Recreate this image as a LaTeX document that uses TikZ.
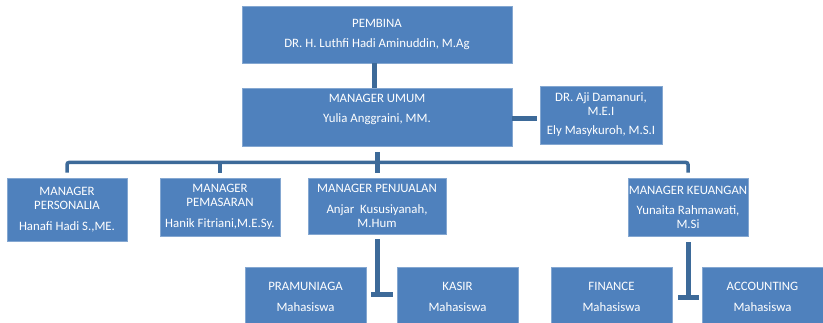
\documentclass[tikz,border=0pt]{standalone}
\usepackage{fontspec}
\setmainfont{Carlito}
\usetikzlibrary{positioning}
\definecolor{biruKotak}{HTML}{4F81BD}
\definecolor{biruGaris}{HTML}{3D6A99}

\begin{document}
\begin{tikzpicture}[x=1pt,y=-1pt,
        jabatan/.style={fill=biruKotak,draw=biruKotak!70!white,line width=0.5pt,text=white,align=center,inner sep=1pt,
            font=\fontsize{12.8}{14}\selectfont},
        garis/.style={draw=biruGaris,line width=5pt}]
        \useasboundingbox (0,0) rectangle (823,323);
        \node[jabatan,minimum width=270pt,minimum height=57pt] (pembina) at (377,34.5) {PEMBINA\\[6pt]DR. H. Luthfi Hadi Aminuddin, M.Ag};
        \node[jabatan,minimum width=270pt,minimum height=58pt] (umum) at (377,117) {MANAGER UMUM\\[6pt]Yulia Anggraini, MM.\\[3pt]\mbox{}};
        \node[jabatan,minimum width=122pt,minimum height=58pt] (sisi) at (601,115) {DR. Aji Damanuri,\\M.E.I\\[5pt]Ely Masykuroh, M.S.I};

        \node[jabatan,minimum width=120pt,minimum height=63pt] (personalia) at (67,209.5) {MANAGER\\PERSONALIA\\[7pt]Hanafi Hadi S.,ME.};
        \node[jabatan,minimum width=120pt,minimum height=58pt] (pemasaran) at (220,207) {MANAGER\\PEMASARAN\\[7pt]Hanik Fitriani,M.E.Sy.};
        \node[jabatan,minimum width=138pt,minimum height=56pt] (penjualan) at (377,206) {MANAGER PENJUALAN\\[7pt]Anjar\ \ Kususiyanah,\\M.Hum};
        \node[jabatan,minimum width=120pt,minimum height=58pt,inner xsep=0pt] (keuangan) at (688,207) {MANAGER KEUANGAN\\[6pt]Yunaita Rahmawati,\\M.Si};

        \foreach \nama/\judul/\x in {pramuniaga/PRAMUNIAGA/305.5,kasir/KASIR/457.5,finance/FINANCE/611.5,accounting/ACCOUNTING/762.5}{
            \node[jabatan,minimum width=121pt,minimum height=59pt] (\nama) at (\x,296.5) {\judul\\[7pt]Mahasiswa};
        }

        \draw[garis] ([xshift=-2.5pt]pembina.south) -- ([xshift=-2.5pt]umum.north);
        \draw[garis] ([yshift=-2pt]umum.east) -- ([xshift=-3pt,yshift=-2pt]umum.east -| sisi.west);

        \coordinate (bus) at (377,162.5);
        \draw[garis,line width=3.5pt,rounded corners=2pt] ([yshift=5pt]personalia.north) |- (bus) -| ([yshift=5pt]keuangan.north);
        \draw[garis,line width=3.5pt] ([yshift=5pt]pemasaran.north) -- (pemasaran.north |- bus);
        \draw[garis] ([yshift=-6pt]umum.south) -- ([yshift=5pt]penjualan.north);

        \coordinate (tjual) at (377,295);
        \draw[garis] ([yshift=-5pt]penjualan.south) -- (tjual);
        \draw[garis] ([xshift=-6pt]tjual) -- ([xshift=16pt]tjual);
        \coordinate (tuang) at (688,297.5);
        \draw[garis] ([yshift=-6pt]keuangan.south) -- (tuang);
        \draw[garis] ([xshift=-10pt]tuang) -- ([xshift=11pt]tuang);
\end{tikzpicture}
\end{document}
